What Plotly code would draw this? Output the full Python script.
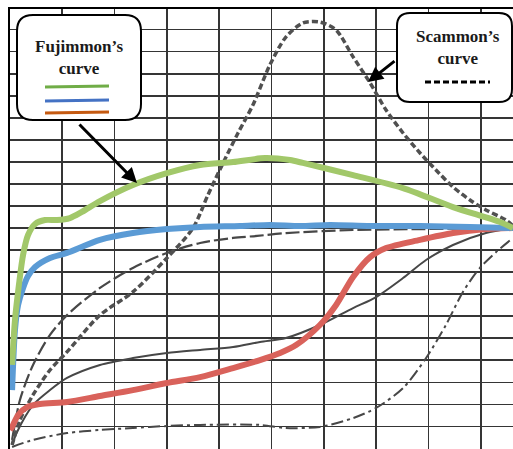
import plotly.graph_objects as go

# ---- data (age in years, size in % of adult value) ----
green_age = [0.08, 0.19, 0.34, 0.50, 0.69, 0.96, 1.34, 1.80, 2.29, 2.75, 3.44, 4.70, 6.00, 7.27, 8.53, 9.75, 10.71, 11.20, 13.12, 15.03, 16.94, 18.74, 19.235]
green_pct = [37.9, 58.3, 74.1, 87.8, 96.8, 101.8, 103.6, 103.6, 104.5, 107.3, 112.2, 119.5, 124.9, 128.6, 129.9, 131.7, 130.8, 129.5, 124.0, 118.1, 109.5, 102.7, 100.0]

blue_age = [0.08, 0.19, 0.31, 0.50, 0.69, 0.96, 1.53, 2.18, 3.44, 4.70, 6.00, 7.27, 8.80, 9.94, 11.09, 12.24, 13.77, 15.68, 17.59, 19.235]
blue_pct = [26.5, 53.7, 65.1, 72.8, 78.2, 82.3, 86.4, 88.7, 94.6, 97.7, 99.5, 100.5, 100.9, 101.4, 100.9, 101.4, 100.9, 100.9, 100.5, 100.0]

red_age = [0.0, 0.08, 0.31, 0.65, 1.15, 2.18, 3.44, 4.70, 6.00, 7.27, 8.53, 9.56, 10.33, 10.94, 11.85, 12.47, 13.12, 13.77, 14.38, 15.68, 16.94, 18.20, 19.235]
red_pct = [8.4, 9.8, 15.2, 18.8, 20.2, 21.1, 23.8, 26.5, 29.7, 32.4, 36.5, 40.1, 43.3, 46.9, 56.0, 65.1, 77.8, 86.8, 90.9, 94.6, 97.7, 99.5, 100.0]

lymph_age = [0.08, 0.38, 0.88, 1.53, 2.18, 3.44, 4.70, 6.00, 7.00, 7.57, 8.15, 8.72, 9.29, 9.94, 10.55, 11.20, 11.85, 12.47, 13.12, 13.77, 14.38, 15.03, 15.68, 16.29, 16.94, 17.59, 18.20, 18.97, 19.235]
lymph_pct = [1.6, 12.9, 24.3, 35.6, 43.8, 60.5, 71.0, 86.4, 100.0, 115.0, 129.5, 143.1, 155.8, 174.0, 186.6, 193.0, 193.4, 189.8, 177.6, 165.8, 153.5, 143.1, 134.0, 126.3, 118.6, 112.7, 108.2, 103.6, 100.9]

neural_age = [0.08, 0.38, 0.88, 1.53, 2.18, 3.44, 4.70, 6.00, 7.27, 8.53, 9.45, 10.55, 13.12, 15.68, 19.235]
neural_pct = [3.9, 22.0, 37.9, 51.5, 60.5, 72.8, 81.9, 88.7, 93.2, 95.5, 96.4, 97.7, 99.1, 99.5, 100.0]

general_age = [0.08, 0.27, 0.88, 1.53, 2.18, 3.44, 4.70, 6.00, 7.27, 8.53, 9.56, 10.55, 11.85, 13.12, 14.00, 15.03, 15.91, 16.94, 18.20, 19.235]
general_pct = [1.6, 7.5, 19.7, 26.5, 32.0, 37.9, 41.0, 43.3, 44.7, 46.0, 48.3, 50.1, 56.0, 63.7, 68.7, 77.3, 85.5, 92.3, 97.7, 100.0]

repro_age = [0.08, 0.88, 2.18, 3.44, 4.70, 6.00, 7.27, 9.56, 10.55, 11.85, 13.12, 14.00, 15.03, 15.91, 16.67, 17.32, 17.97, 18.59, 19.235]
repro_pct = [0.7, 3.9, 7.0, 8.4, 9.3, 10.2, 10.7, 10.7, 9.3, 9.8, 13.8, 18.4, 27.4, 41.0, 56.0, 71.0, 81.9, 89.1, 95.5]

label_fuji = "<b>Fujimmon’s<br>curve</b>"
label_scam = "<b>Scammon’s<br>curve</b>"

# ---- figure ----
W, H = 513, 449
ML, MT = 10, 9
PW, PH = W - ML, H - MT

def px(x):
    return (x - ML) / PW

def py(y):
    return (H - y) / PH

GRAY = "#474747"
fig = go.Figure()
fig.add_trace(go.Scatter(x=repro_age, y=repro_pct, mode="lines",
                         line=dict(color=GRAY, width=2, dash="12px,4px,3px,4px", shape="spline", smoothing=0.8)))
fig.add_trace(go.Scatter(x=general_age, y=general_pct, mode="lines",
                         line=dict(color=GRAY, width=2, shape="spline", smoothing=0.8)))
fig.add_trace(go.Scatter(x=neural_age, y=neural_pct, mode="lines",
                         line=dict(color=GRAY, width=2.2, dash="14px,4px", shape="spline", smoothing=0.8)))
fig.add_trace(go.Scatter(x=lymph_age, y=lymph_pct, mode="lines",
                         line=dict(color="#505050", width=3.5, dash="6px,3px", shape="spline", smoothing=0.8)))
fig.add_trace(go.Scatter(x=red_age, y=red_pct, mode="lines",
                         line=dict(color="#D9625B", width=6, shape="spline", smoothing=0.8)))
fig.add_trace(go.Scatter(x=blue_age, y=blue_pct, mode="lines",
                         line=dict(color="#5B9BD5", width=6, shape="spline", smoothing=0.8)))
fig.add_trace(go.Scatter(x=green_age, y=green_pct, mode="lines",
                         line=dict(color="#A2C86A", width=6, shape="spline", smoothing=0.8)))

def rounded_box(x0, y0, x1, y1, r):
    # pixel coords -> paper path
    pts = [
        f"M {px(x0 + r)},{py(y0)}",
        f"L {px(x1 - r)},{py(y0)}",
        f"Q {px(x1)},{py(y0)} {px(x1)},{py(y0 + r)}",
        f"L {px(x1)},{py(y1 - r)}",
        f"Q {px(x1)},{py(y1)} {px(x1 - r)},{py(y1)}",
        f"L {px(x0 + r)},{py(y1)}",
        f"Q {px(x0)},{py(y1)} {px(x0)},{py(y1 - r)}",
        f"L {px(x0)},{py(y0 + r)}",
        f"Q {px(x0)},{py(y0)} {px(x0 + r)},{py(y0)}",
        "Z",
    ]
    return dict(type="path", xref="paper", yref="paper", path=" ".join(pts),
                fillcolor="white", line=dict(color="black", width=2), layer="above")

def seg(x0, y0, x1, y1, color, width, dash="solid"):
    return dict(type="line", xref="paper", yref="paper", x0=px(x0), y0=py(y0), x1=px(x1), y1=py(y1),
                line=dict(color=color, width=width, dash=dash), layer="above")

shapes = [
    rounded_box(17, 15, 141, 120, 16),
    rounded_box(397, 13, 512, 102, 13),
    seg(45, 87, 109, 86, "#70AD47", 3),
    seg(45, 101, 109, 100, "#4472C4", 3),
    seg(45, 113, 109, 112, "#C55A11", 3),
    seg(425, 82, 490, 82, "black", 3, "6px,3px"),
]

font = dict(family="Liberation Serif, Times New Roman, serif", size=17, color="#1a1a1a")
annotations = [
    dict(xref="paper", yref="paper", x=px(79), y=py(58), text=label_fuji, showarrow=False,
         font=font, xanchor="center", yanchor="middle", align="center"),
    dict(xref="paper", yref="paper", x=px(458), y=py(48), text=label_scam, showarrow=False,
         font=font, xanchor="center", yanchor="middle", align="center"),
    dict(xref="paper", yref="paper", x=px(137), y=py(183), text="", showarrow=True,
         ax=78 - 137, ay=123 - 183, arrowhead=2, arrowsize=1, arrowwidth=3, arrowcolor="black"),
    dict(xref="paper", yref="paper", x=px(368), y=py(82), text="", showarrow=True,
         ax=396 - 368, ay=60 - 82, arrowhead=2, arrowsize=1, arrowwidth=3, arrowcolor="black"),
]

fig.update_layout(
    width=W, height=H,
    margin=dict(l=ML, r=0, t=MT, b=0),
    paper_bgcolor="white", plot_bgcolor="white",
    showlegend=False, hovermode=False,
    shapes=shapes, annotations=annotations,
    xaxis=dict(range=[0, PW / 26.15], dtick=2, tick0=0, showgrid=True, gridcolor="#353535", gridwidth=1.7,
               zeroline=False, showticklabels=False, ticks="", side="top",
               showline=True, linecolor="black", linewidth=2.5),
    yaxis=dict(range=[(448.5 - 449) / 2.205, (448.5 - 9) / 2.205], dtick=10, tick0=0, showgrid=True,
               gridcolor="#353535", gridwidth=1.7, zeroline=False, showticklabels=False, ticks="",
               showline=True, linecolor="black", linewidth=2.5),
)

fig.write_html("out.html", config={"displayModeBar": False, "staticPlot": True},
               post_script="document.body.style.margin='0';document.body.style.overflow='hidden';")
